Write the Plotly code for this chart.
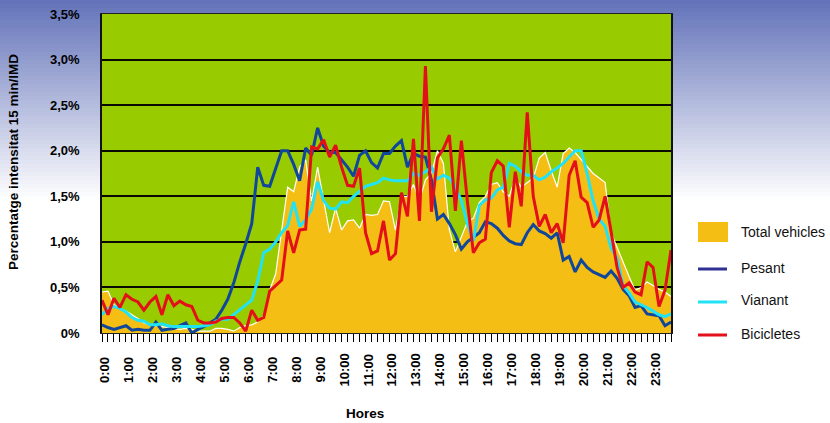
import plotly.graph_objects as go

# ---------------- data (percent of daily traffic per 15-min slot) ----------------
hour_labels = [f"{h}:00" for h in range(24)]
slots = list(range(96))  # 0:00, 0:15, ... 23:45

total_vehicles = [
    0.45, 0.46, 0.31, 0.27, 0.24, 0.20, 0.16, 0.11, 0.09, 0.08,
    0.07, 0.06, 0.05, 0.04, 0.05, 0.04, 0.02, 0.02, 0.02, 0.05,
    0.05, 0.04, 0.02, 0.06, 0.08, 0.09, 0.12, 0.19, 0.47, 0.65,
    1.10, 1.60, 1.55, 1.82, 1.90, 1.45, 1.82, 1.45, 1.10, 1.37,
    1.13, 1.23, 1.24, 1.15, 1.30, 1.29, 1.30, 1.45, 1.44, 1.13,
    1.50, 1.50, 1.63, 1.45, 1.68, 1.75, 2.00, 1.86, 1.13, 0.89,
    1.06, 1.22, 1.26, 1.43, 1.50, 1.63, 1.65, 1.55, 1.50, 1.70,
    1.60, 1.65, 1.70, 1.92, 1.98, 1.78, 1.60, 1.97, 2.03, 1.98,
    1.90, 1.82, 1.75, 1.70, 1.65, 1.10, 0.95, 0.78, 0.62, 0.47,
    0.50, 0.56, 0.52, 0.48, 0.45, 0.40,
]

pesant = [
    0.09, 0.06, 0.04, 0.06, 0.08, 0.03, 0.04, 0.03, 0.03, 0.12,
    0.03, 0.04, 0.05, 0.08, 0.11, 0.00, 0.04, 0.07, 0.11, 0.15,
    0.25, 0.37, 0.55, 0.78, 0.98, 1.20, 1.82, 1.62, 1.61, 1.80,
    2.00, 2.00, 1.85, 1.67, 2.03, 1.95, 2.25, 2.05, 1.98, 1.98,
    1.90, 1.82, 1.72, 1.95, 2.00, 1.87, 1.81, 1.97, 1.97, 2.05,
    2.11, 1.82, 1.97, 1.94, 1.93, 1.68, 1.25, 1.30, 1.20, 1.08,
    0.92, 1.00, 1.05, 1.10, 1.22, 1.20, 1.15, 1.07, 1.01, 0.98,
    0.97, 1.10, 1.19, 1.12, 1.09, 1.04, 1.10, 0.80, 0.84, 0.67,
    0.80, 0.72, 0.67, 0.64, 0.61, 0.68, 0.60, 0.48, 0.41, 0.28,
    0.30, 0.21, 0.20, 0.19, 0.08, 0.12,
]

vianant = [
    0.20, 0.27, 0.29, 0.27, 0.23, 0.17, 0.14, 0.13, 0.09, 0.09,
    0.10, 0.08, 0.07, 0.07, 0.07, 0.07, 0.07, 0.08, 0.09, 0.13,
    0.15, 0.15, 0.20, 0.25, 0.30, 0.36, 0.57, 0.88, 0.92, 1.00,
    1.10, 1.18, 1.44, 1.17, 1.24, 1.36, 1.66, 1.45, 1.37, 1.36,
    1.44, 1.43, 1.50, 1.55, 1.61, 1.63, 1.65, 1.70, 1.68, 1.67,
    1.67, 1.67, 1.75, 1.73, 1.77, 1.82, 1.69, 1.73, 1.70, 1.60,
    1.45, 1.20, 1.01, 1.40, 1.46, 1.48, 1.57, 1.60, 1.86, 1.83,
    1.77, 1.73, 1.73, 1.68, 1.71, 1.77, 1.81, 1.86, 1.93, 2.00,
    2.00, 1.75, 1.45, 1.25, 1.17, 0.93, 0.82, 0.52, 0.44, 0.34,
    0.31, 0.28, 0.24, 0.20, 0.18, 0.21,
]

bicicletes = [
    0.36, 0.20, 0.38, 0.28, 0.42, 0.37, 0.34, 0.25, 0.34, 0.40,
    0.20, 0.42, 0.30, 0.35, 0.31, 0.29, 0.14, 0.11, 0.11, 0.12,
    0.16, 0.17, 0.17, 0.11, 0.02, 0.25, 0.14, 0.17, 0.46, 0.52,
    0.58, 1.12, 0.88, 1.13, 1.14, 2.04, 2.02, 2.12, 1.93, 2.06,
    1.82, 1.62, 1.61, 1.81, 1.10, 0.87, 0.90, 1.23, 0.80, 0.87,
    1.54, 1.28, 2.13, 1.23, 2.93, 1.33, 1.92, 2.02, 2.17, 1.34,
    2.11, 1.45, 0.88, 0.99, 1.03, 1.76, 1.89, 1.83, 1.16, 1.77,
    1.39, 2.42, 1.50, 1.17, 1.30, 1.10, 1.20, 0.99, 1.73, 1.89,
    1.49, 1.43, 1.16, 1.24, 1.50, 1.11, 0.72, 0.50, 0.55, 0.45,
    0.42, 0.78, 0.72, 0.29, 0.47, 0.91,
]

y_tick_vals = [0, 0.5, 1.0, 1.5, 2.0, 2.5, 3.0, 3.5]
y_tick_text = ["0%", "0,5%", "1,0%", "1,5%", "2,0%", "2,5%", "3,0%", "3,5%"]

series_names = ["Total vehicles", "Pesant", "Vianant", "Bicicletes"]

# ---------------- styling ----------------
W, H = 830, 423
ML, MR, MT, MB = 102, 159, 14, 90
PW, PH = W - ML - MR, H - MT - MB

GOLD = "#F5BE14"
GREEN = "#99CC00"
BLUE = "#11479A"
CYAN = "#22E2F5"
RED = "#E3101A"
FONT = "Liberation Sans, Arial, sans-serif"


def px_x(px):
    return (px - ML) / PW


def px_y(py):
    return (H - MB - py) / PH


fig = go.Figure()

fig.add_trace(go.Scatter(
    x=slots, y=total_vehicles, name=series_names[0], mode="lines",
    fill="tozeroy", fillcolor=GOLD, line=dict(color="white", width=1.2),
    showlegend=False,
))
fig.add_trace(go.Scatter(
    x=slots, y=pesant, name=series_names[1], mode="lines",
    line=dict(color=BLUE, width=3), showlegend=False,
))
fig.add_trace(go.Scatter(
    x=slots, y=vianant, name=series_names[2], mode="lines",
    line=dict(color=CYAN, width=3), showlegend=False,
))
fig.add_trace(go.Scatter(
    x=slots, y=bicicletes, name=series_names[3], mode="lines",
    line=dict(color=RED, width=3), showlegend=False,
))

shapes = []
# background gradient (blue at top fading to white), kept outside the plot area
top_c = (98, 114, 185)
g_end = 200
n = 50
plot_top, plot_left, plot_right = MT, ML, W - MR
for k in range(n):
    y0 = g_end * k / n
    y1 = g_end * (k + 1) / n + 0.6
    t = (k + 0.5) / n
    c = tuple(round(top_c[j] + (255 - top_c[j]) * t) for j in range(3))
    col = f"rgb{c}"
    segs = []
    if y0 < plot_top:
        segs.append((0, W, y0, min(y1, plot_top)))
    if y1 > plot_top:
        ya = max(y0, plot_top)
        segs.append((0, plot_left, ya, y1))
        segs.append((plot_right, W, ya, y1))
    for (xa, xb, ya, yb) in segs:
        shapes.append(dict(type="rect", xref="paper", yref="paper",
                           x0=px_x(xa), x1=px_x(xb), y0=px_y(yb), y1=px_y(ya),
                           fillcolor=col, line=dict(width=0), layer="below"))

# manual legend
shapes.append(dict(type="rect", xref="paper", yref="paper",
                   x0=px_x(698), x1=px_x(728), y0=px_y(242), y1=px_y(222),
                   fillcolor=GOLD, line=dict(width=0)))
for py, col in [(269, "#2E3192"), (302, CYAN), (335, RED)]:
    shapes.append(dict(type="line", xref="paper", yref="paper",
                       x0=px_x(698), x1=px_x(727), y0=px_y(py), y1=px_y(py),
                       line=dict(color=col, width=3)))

annotations = []
for name, py in zip(series_names, [232, 268, 300, 334]):
    annotations.append(dict(text=name, xref="paper", yref="paper",
                            x=px_x(739), y=px_y(py), xanchor="left", yanchor="middle",
                            showarrow=False, font=dict(family=FONT, size=14, color="#111")))

# hour labels (rotated, centred like the original)
for h, lab in enumerate(hour_labels):
    annotations.append(dict(text=f"<b>{lab}</b>", xref="x", yref="paper",
                            x=slots[h * 4], y=px_y(370), xanchor="center", yanchor="middle",
                            xshift=2, textangle=-90, showarrow=False,
                            font=dict(family=FONT, size=13, color="#000")))

annotations.append(dict(text="<b>Percentatge intensitat 15 min/IMD</b>", xref="paper", yref="paper",
                        x=px_x(13), y=px_y(162), xanchor="center", yanchor="middle",
                        textangle=-90, showarrow=False,
                        font=dict(family=FONT, size=13.5, color="#000")))
annotations.append(dict(text="<b>Hores</b>", xref="paper", yref="paper",
                        x=px_x(365), y=px_y(413), xanchor="center", yanchor="middle",
                        showarrow=False, font=dict(family=FONT, size=13.5, color="#000")))

fig.update_layout(
    width=W, height=H,
    margin=dict(l=ML, r=MR, t=MT, b=MB, pad=0, autoexpand=False),
    paper_bgcolor="white",
    plot_bgcolor=GREEN,
    showlegend=False,
    shapes=shapes,
    annotations=annotations,
    font=dict(family=FONT),
)
fig.update_xaxes(
    range=[0, 95], showgrid=False, zeroline=False, automargin=False,
    showline=True, mirror=True, linecolor="#222", linewidth=1,
    ticks="outside", tickmode="linear", tick0=0, dtick=1,
    ticklen=8, tickwidth=1, tickcolor="#000",
    showticklabels=False,
)
fig.update_yaxes(
    range=[0, 3.5], tickmode="array", tickvals=y_tick_vals, ticktext=y_tick_text,
    showgrid=True, gridcolor="#0a0a00", gridwidth=1.5, zeroline=False, automargin=False,
    showline=True, mirror=True, linecolor="#111", linewidth=1.5,
    ticks="outside", ticklen=18, tickcolor="rgba(0,0,0,0)",
    tickfont=dict(family=FONT, size=13, color="#000", weight="bold"),
)

fig.write_html(
    "out.html",
    config={"displayModeBar": False},
    post_script="document.body.style.margin='0';document.body.style.overflow='hidden';",
)
